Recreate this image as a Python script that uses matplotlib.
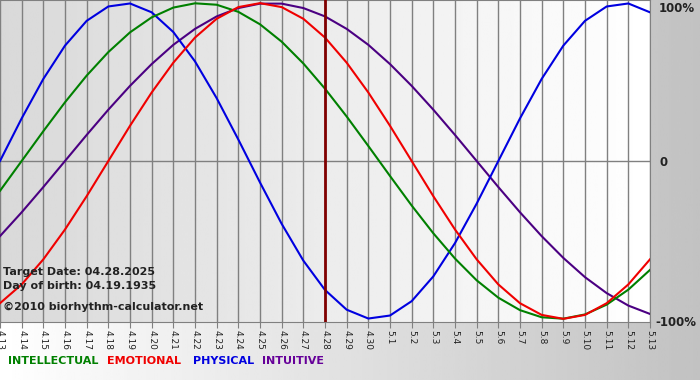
import matplotlib.pyplot as plt
import numpy as np

# days shown on the x axis
dates = ['4.13', '4.14', '4.15', '4.16', '4.17', '4.18', '4.19', '4.20', '4.21', '4.22',
         '4.23', '4.24', '4.25', '4.26', '4.27', '4.28', '4.29', '4.30', '5.1', '5.2',
         '5.3', '5.4', '5.5', '5.6', '5.7', '5.8', '5.9', '5.10', '5.11', '5.12', '5.13']

# values, one per day (-1 .. 1)
physical = [0.0, 0.27, 0.52, 0.731, 0.888, 0.979, 0.998, 0.942, 0.817, 0.631, 0.398,
            0.136, -0.136, -0.398, -0.631, -0.817, -0.942, -0.998, -0.979, -0.888,
            -0.731, -0.52, -0.27, 0.0, 0.27, 0.52, 0.731, 0.888, 0.979, 0.998, 0.942]
emotional = [-0.901, -0.782, -0.623, -0.434, -0.223, 0.0, 0.223, 0.434, 0.623, 0.782,
             0.901, 0.975, 1.0, 0.975, 0.901, 0.782, 0.623, 0.434, 0.223, 0.0, -0.223,
             -0.434, -0.623, -0.782, -0.901, -0.975, -1.0, -0.975, -0.901, -0.782, -0.623]
intellectual = [-0.189, 0.0, 0.189, 0.372, 0.541, 0.69, 0.815, 0.91, 0.972, 0.999, 0.99,
                0.945, 0.866, 0.756, 0.618, 0.458, 0.282, 0.095, -0.095, -0.282, -0.458,
                -0.618, -0.756, -0.866, -0.945, -0.99, -0.999, -0.972, -0.91, -0.815, -0.69]
intuitive = [-0.476, -0.325, -0.165, 0.0, 0.165, 0.325, 0.476, 0.614, 0.736, 0.837, 0.916,
             0.969, 0.997, 0.997, 0.969, 0.916, 0.837, 0.736, 0.614, 0.476, 0.325, 0.165,
             0.0, -0.165, -0.325, -0.476, -0.614, -0.736, -0.837, -0.916, -0.969]
target = '4.28'

x = np.arange(len(dates))

fig = plt.figure(figsize=(7, 3.8), dpi=100)

# page background: white on the left fading to gray
bg = fig.add_axes([0, 0, 1, 1])
bg.imshow(np.linspace(1.0, 0.76, 256).reshape(1, -1), cmap='gray', vmin=0, vmax=1,
          aspect='auto', extent=[0, 1, 0, 1])
bg.axis('off')

ax = fig.add_axes([0, 1 - 322 / 380, 650 / 700, 322 / 380])
ax.set_xlim(0, len(dates) - 1)
ax.set_ylim(-1.02, 1.02)
ax.imshow(np.linspace(0.85, 1.0, 256).reshape(1, -1), cmap='gray', vmin=0, vmax=1,
          aspect='auto', extent=[0, len(dates) - 1, -1.02, 1.02], zorder=0)

ax.set_xticks(x)
ax.set_xticklabels(dates, rotation=270, fontsize=6.5, color='#222222')
ax.tick_params(axis='x', length=4, color='#808080', pad=2)
ax.set_yticks([])
ax.grid(axis='x', color='#808080', lw=1, zorder=1)
ax.axhline(0, color='#808080', lw=1, zorder=1)
for s in ax.spines.values():
    s.set_color('#808080')
ax.spines['left'].set_visible(False)

ax.plot(x, intuitive, color='#4b0082', lw=1.5, zorder=3)
ax.plot(x, physical, color='#0000e0', lw=1.5, zorder=3)
ax.plot(x, intellectual, color='#008000', lw=1.5, zorder=3)
ax.plot(x, emotional, color='#f00000', lw=1.5, zorder=3)
ax.axvline(dates.index(target), color='#800000', lw=2, zorder=4)

# right side labels
fig.text(659 / 700, 1 - 8 / 380, '100%', fontsize=8.5, fontweight='bold', va='center', color='#222222')
fig.text(659 / 700, 1 - 162 / 380, '0', fontsize=8.5, fontweight='bold', va='center', color='#222222')
fig.text(655 / 700, 1 - 322 / 380, '-100%', fontsize=8.5, fontweight='bold', va='center', color='#222222')

# info text
fig.text(3 / 700, 1 - 272 / 380, 'Target Date: 04.28.2025', fontsize=8, fontweight='bold', va='center', color='#222222')
fig.text(3 / 700, 1 - 286 / 380, 'Day of birth: 04.19.1935', fontsize=8, fontweight='bold', va='center', color='#222222')
fig.text(3 / 700, 1 - 307 / 380, '\u00a92010 biorhythm-calculator.net', fontsize=8, fontweight='bold', va='center', color='#222222')

# legend
fig.text(8 / 700, 1 - 361 / 380, 'INTELLECTUAL', fontsize=8, fontweight='bold', va='center', color='#008000')
fig.text(107 / 700, 1 - 361 / 380, 'EMOTIONAL', fontsize=8, fontweight='bold', va='center', color='#f00000')
fig.text(193 / 700, 1 - 361 / 380, 'PHYSICAL', fontsize=8, fontweight='bold', va='center', color='#0000e0')
fig.text(262 / 700, 1 - 361 / 380, 'INTUITIVE', fontsize=8, fontweight='bold', va='center', color='#660099')

plt.savefig('out.png', dpi=100)
